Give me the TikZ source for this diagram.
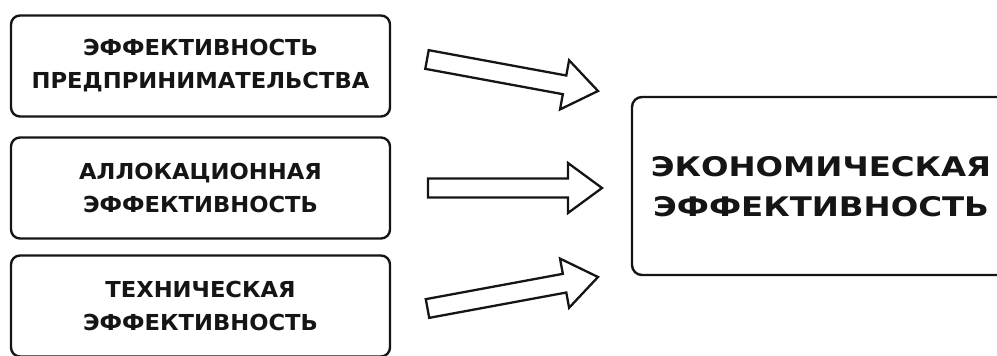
\documentclass[tikz,border=0pt]{standalone}
\usepackage{fontspec}
\setmainfont{DejaVu Sans}[FakeStretch=1.03]
\newfontfamily\bigfont{DejaVu Sans}[FakeStretch=1.2]
\usetikzlibrary{calc}
\definecolor{ink}{HTML}{151515}
\tikzset{
  smallbox/.style={draw=ink, line width=2.4pt, rounded corners=9pt, minimum width=379pt, minimum height=101pt, inner sep=0pt},
  smalltext/.style={text=ink, font=\fontsize{22pt}{33pt}\selectfont\bfseries, align=center, inner sep=0pt},
  bigtext/.style={text=ink, font=\bigfont\fontsize{27pt}{40pt}\selectfont\bfseries, align=center, inner sep=0pt},
  fatarrow/.style={draw=ink, fill=white, line width=2.3pt, line join=miter}
}
\newcommand{\fatarrowpath}[2]{%
  \draw[fatarrow] ($(#1)!9.5pt!90:(#2)$) -- ($($(#2)!34pt!(#1)$)!9.5pt!-90:(#1)$)
   -- ($($(#2)!34pt!(#1)$)!25pt!-90:(#1)$) -- (#2)
   -- ($($(#2)!34pt!(#1)$)!25pt!90:(#1)$) -- ($($(#2)!34pt!(#1)$)!9.5pt!90:(#1)$)
   -- ($(#1)!9.5pt!-90:(#2)$) -- cycle;}
\begin{document}
\begin{tikzpicture}[x=1pt,y=-1pt]
\useasboundingbox (0,0) rectangle (997,356);
\clip (0,0) rectangle (997,356);
\fill[white] (0,0) rectangle (997,356);
\node[smallbox] (b1) at (200.5,66) {};
\node[smallbox] (b2) at (200.5,188) {};
\node[smallbox] (b3) at (200.5,306) {};
\node[smalltext] (t1) at (b1.center) {ЭФФЕКТИВНОСТЬ\\ПРЕДПРИНИМАТЕЛЬСТВА};
\node[smalltext] (t2) at (b2.center) {АЛЛОКАЦИОННАЯ\\ЭФФЕКТИВНОСТЬ};
\node[smalltext] (t3) at (b3.center) {ТЕХНИЧЕСКАЯ\\ЭФФЕКТИВНОСТЬ};
\node[draw=ink, line width=2.4pt, rounded corners=10pt, minimum width=380pt, minimum height=178pt, inner sep=0pt] (big) at (822,186) {};
\node[bigtext] (bt) at (821,187) {ЭКОНОМИЧЕСКАЯ\\ЭФФЕКТИВНОСТЬ};
\coordinate (a1t) at (427,59.5); \coordinate (a1p) at (598,91);
\coordinate (a2t) at (428,188);  \coordinate (a2p) at (602,188);
\coordinate (a3t) at (427.5,308.5); \coordinate (a3p) at (598,277);
\fatarrowpath{a1t}{a1p}
\fatarrowpath{a2t}{a2p}
\fatarrowpath{a3t}{a3p}
\end{tikzpicture}
\end{document}
